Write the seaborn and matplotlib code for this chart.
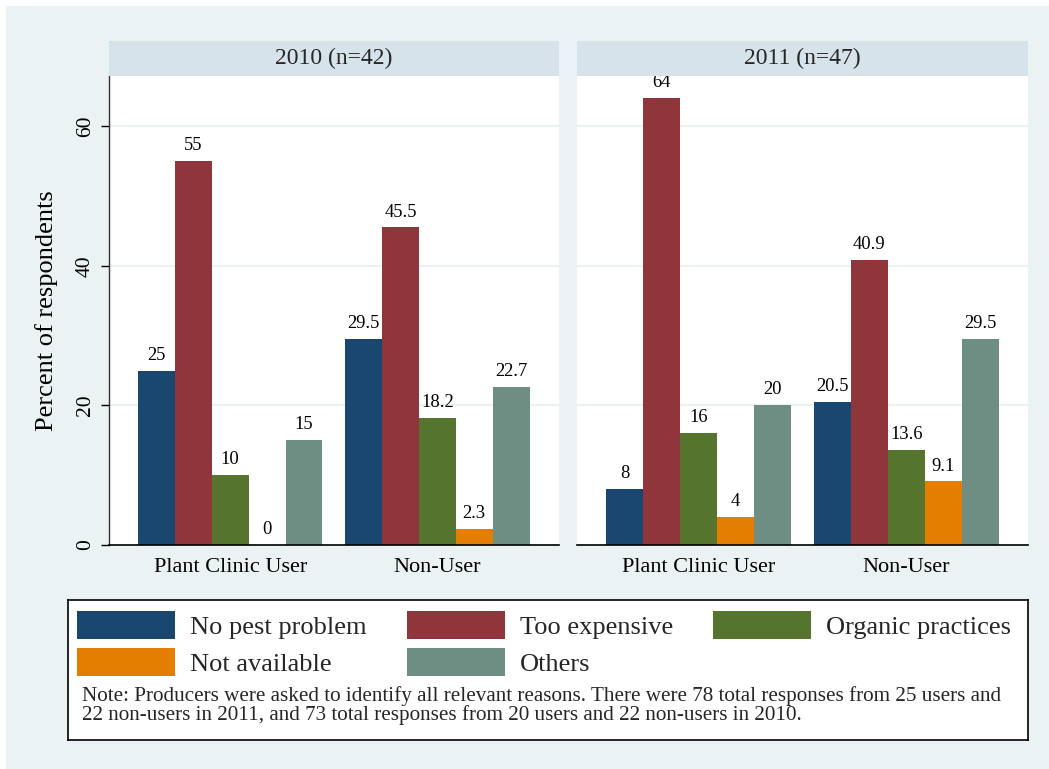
import pandas as pd
import matplotlib.pyplot as plt
import seaborn as sns
from matplotlib.patches import Patch, Rectangle

# Data
years = ['2010 (n=42)', '2011 (n=47)']
groups = ['Plant Clinic User', 'Non-User']
reasons = ['No pest problem', 'Too expensive', 'Organic practices', 'Not available', 'Others']
pct_2010_user = [25, 55, 10, 0, 15]
pct_2010_non = [29.5, 45.5, 18.2, 2.3, 22.7]
pct_2011_user = [8, 64, 16, 4, 20]
pct_2011_non = [20.5, 40.9, 13.6, 9.1, 29.5]
colors = ['#1A476F', '#90353B', '#55752F', '#E37E00', '#6E8E84']
note = ("Note: Producers were asked to identify all relevant reasons. There were 78 total responses from 25 users and\n"
        "22 non-users in 2011, and 73 total responses from 20 users and 22 non-users in 2010.")

rows = []
for year, user, non in [(years[0], pct_2010_user, pct_2010_non),
                        (years[1], pct_2011_user, pct_2011_non)]:
    for r, u, n in zip(reasons, user, non):
        rows.append({'year': year, 'group': groups[0], 'reason': r, 'pct': u})
        rows.append({'year': year, 'group': groups[1], 'reason': r, 'pct': n})
data = pd.DataFrame(rows)

sns.set_theme(style='white')
plt.rcParams['font.family'] = ['Liberation Serif', 'DejaVu Serif']

bg = '#EAF2F3'
strip_col = '#D7E3EA'
W, H = 1049, 769


def fx(px):
    return px / W


def fy(py):
    return 1 - py / H


fig = plt.figure(figsize=(W / 100, H / 100), dpi=100)
fig.patch.set_facecolor('white')
fig.add_artist(Rectangle((fx(6), 0), 1, fy(6), transform=fig.transFigure,
                         facecolor=bg, edgecolor='none', zorder=-10))

panels = [(109, 450), (577, 451)]
for i, (year, (left, width)) in enumerate(zip(years, panels)):
    ax = fig.add_axes([fx(left), fy(545), width / W, (545 - 76) / H])
    ax.set_facecolor('white')
    sub = data[data['year'] == year]
    sns.barplot(data=sub, x='group', y='pct', hue='reason', order=groups,
                hue_order=reasons, palette=colors, saturation=1, width=0.89,
                errorbar=None, linewidth=0, legend=False, ax=ax)
    for cont in ax.containers:
        ax.bar_label(cont, fmt='%g', padding=5, fontsize=13.3, color='black')
    ax.set_xlim(-0.585, 1.587)
    ax.set_ylim(0, 67.2)
    ax.set_yticks([0, 20, 40, 60])
    ax.yaxis.grid(True, color=bg, linewidth=1.5)
    ax.set_axisbelow(True)
    ax.set_xlabel('')
    ax.tick_params(axis='x', length=0, pad=9, labelsize=16, colors='black')
    for s in ['top', 'right']:
        ax.spines[s].set_visible(False)
    ax.spines['bottom'].set_color('black')
    ax.spines['bottom'].set_linewidth(1.2)
    if i == 0:
        ax.spines['left'].set_color('#333333')
        ax.spines['left'].set_linewidth(1.0)
        ax.tick_params(axis='y', length=6, width=1, pad=4, labelsize=15.5,
                       colors='black', left=True, labelrotation=90)
        plt.setp(ax.get_yticklabels(), va='center')
        ax.set_ylabel('Percent of respondents', fontsize=19, color='black')
        ax.yaxis.label.set_va('center')
        ax.yaxis.set_label_coords((47 - 109) / 450, 0.5)
    else:
        ax.spines['left'].set_visible(False)
        ax.tick_params(axis='y', left=False, labelleft=False)
        ax.set_ylabel('')

    sax = fig.add_axes([fx(left), fy(76), width / W, 35 / H])
    sax.set_facecolor(strip_col)
    sax.set_xticks([])
    sax.set_yticks([])
    for s in sax.spines.values():
        s.set_visible(False)
    sax.text(0.5, 0.5, year, ha='center', va='center', fontsize=17,
             transform=sax.transAxes)

# Legend box with note
lax = fig.add_axes([fx(68), fy(740), (1028 - 68) / W, (740 - 600) / H])
lax.set_facecolor('white')
lax.set_xticks([])
lax.set_yticks([])
for s in lax.spines.values():
    s.set_color('black')
    s.set_linewidth(1.2)

# legend fills column by column, so reorder to get rows like the original
order = [0, 3, 1, 4, 2]
handles = [Patch(facecolor=colors[k], edgecolor='none', label=reasons[k]) for k in order]
fig.legend(handles=handles, ncol=3, loc='upper left',
           bbox_to_anchor=(fx(77.5), fy(611)), frameon=False, fontsize=19,
           borderpad=0, borderaxespad=0, handlelength=3.71, handleheight=1.25,
           handletextpad=0.57, columnspacing=1.52, labelspacing=0.34)

fig.text(fx(82), fy(686), note, ha='left', va='top', fontsize=15.2,
         linespacing=0.96)

fig.savefig('out.png', dpi=100, facecolor=fig.get_facecolor())
